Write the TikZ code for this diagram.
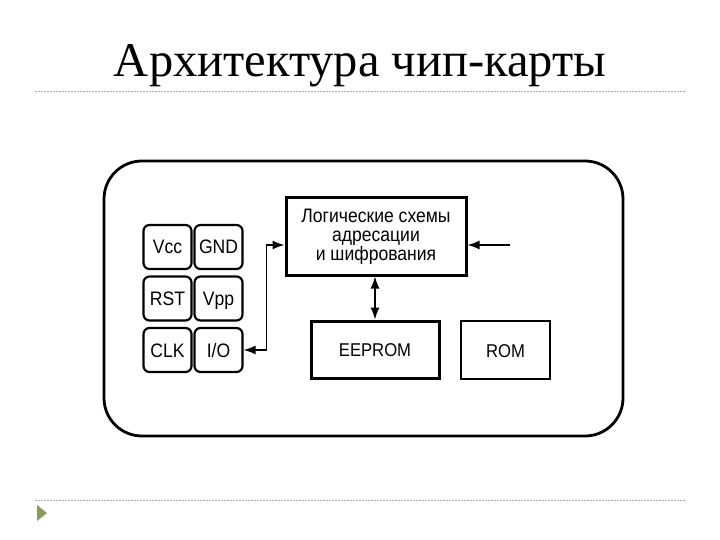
\documentclass[tikz,border=0pt]{standalone}
\usepackage{fontspec}
\setmainfont{Liberation Serif}
\setsansfont{Liberation Sans}
\newfontfamily\condsans[FakeStretch=0.9]{Liberation Sans}
\usetikzlibrary{arrows.meta}
\definecolor{bulletgreen}{RGB}{135,155,95}
\definecolor{sepgray}{RGB}{170,170,170}
\begin{document}
\begin{tikzpicture}[x=1pt,y=-1pt,
  pinbox/.style={draw, line width=2.2pt, rounded corners=6pt, minimum width=48pt, minimum height=44pt, inner sep=0pt, text height=14pt, text depth=0pt, font=\condsans\fontsize{19.5}{20}\selectfont},
  blk/.style={draw, line width=3pt, inner sep=0pt, font=\condsans\fontsize{19.5}{19}\selectfont},
  tip/.tip={Latex[length=12pt,width=9pt]},
  conn/.style={line width=1.4pt, tip-tip},
  arr/.style={line width=1.4pt, -tip},
  sepline/.style={draw=sepgray, line width=0.7pt, dash pattern=on 2pt off 1pt}]
\useasboundingbox (0,0) rectangle (720,540);
\fill[white] (0,0) rectangle (720,540);
% title
\node[anchor=base, inner sep=0pt, font=\fontsize{48.5}{52}\selectfont] (title) at (360,77) {Архитектура чип-карты};
% separators
\coordinate (s1a) at (35,91); \coordinate (s1b) at (686,91);
\coordinate (s2a) at (35,500); \coordinate (s2b) at (686,500);
\draw[sepline] (s1a) -- (s1b);
\draw[sepline] (s2a) -- (s2b);
\fill[bulletgreen] (37,505) -- (47,513) -- (37,521) -- cycle;
% card
\node[draw, line width=2.8pt, rounded corners=38pt, minimum width=519pt, minimum height=275pt, inner sep=0pt] (card) at (363.5,298.5) {};
% pins
\node[pinbox] (vcc) at (167.5,247) {Vcc};
\node[pinbox] (gnd) at (218.5,247) {GND};
\node[pinbox] (rst) at (167.5,298.5) {RST};
\node[pinbox] (vpp) at (218.5,298.5) {Vpp};
\node[pinbox] (clk) at (167.5,350) {CLK};
\node[pinbox] (io) at (218.5,350) {I/O};
% blocks
\node[blk, minimum width=180pt, minimum height=77pt, align=center] (logic) at (376,236.5) {Логические схемы\\адресации\\и шифрования};
\node[blk, minimum width=128pt, minimum height=57pt, text height=14pt, text depth=0pt, font=\condsans\fontsize{18.5}{19}\selectfont] (eeprom) at (375,349.5) {EEPROM};
\node[blk, line width=2.6pt, minimum width=89pt, minimum height=58pt, text height=14pt, text depth=0pt, font=\condsans\fontsize{18.5}{19}\selectfont] (rom) at (505.5,350) {ROM};
% connectors
\draw[conn] (io.east) -- ++(23,0) |- ([yshift=-8.5pt]logic.west);
\coordinate (ext) at (510,245);
\draw[arr] (ext) -- (ext -| logic.east);
\draw[conn] (eeprom.north) -- (eeprom.north |- logic.south);
\end{tikzpicture}
\end{document}
